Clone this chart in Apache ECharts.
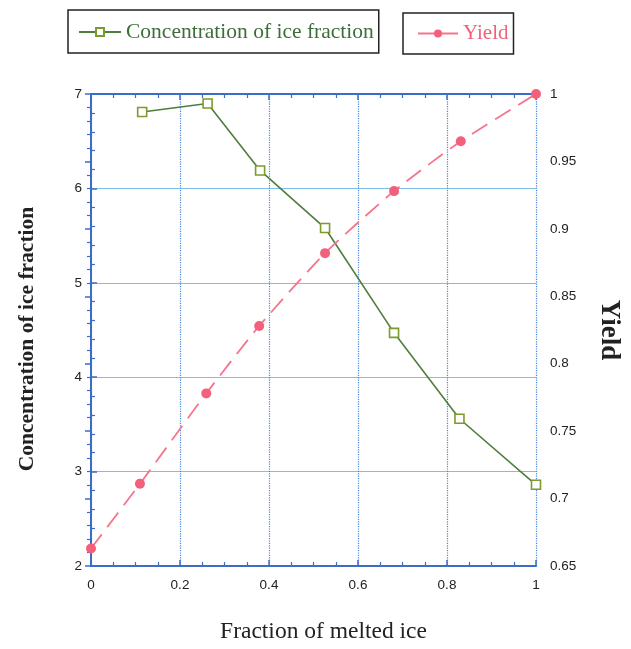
<!DOCTYPE html>
<html>
<head>
<meta charset="utf-8">
<script src="https://cdn.jsdelivr.net/npm/echarts@6/dist/echarts.min.js"></script>
<style>
  html, body { margin: 0; padding: 0; background: #fff; }
  #chart { width: 631px; height: 649px; }
</style>
</head>
<body>
<div id="chart"></div>
<script>
// Concentration of the ice fraction versus fraction of melted ice
const concMelted = [0.115, 0.262, 0.38, 0.526, 0.681, 0.828, 1.0];
const concentration = [6.81, 6.90, 6.19, 5.58, 4.47, 3.56, 2.86];

// Yield versus fraction of melted ice
const yieldMelted = [0, 0.11, 0.259, 0.378, 0.526, 0.681, 0.831, 1.0];
const yieldValues = [0.663, 0.711, 0.778, 0.828, 0.882, 0.928, 0.965, 1.0];

const xTicks = [0, 0.2, 0.4, 0.6, 0.8, 1];
const leftTicks = [2, 3, 4, 5, 6, 7];
const rightTicks = [0.65, 0.7, 0.75, 0.8, 0.85, 0.9, 0.95, 1];

const concName = 'Concentration of ice fraction';
const yieldName = 'Yield';

const axisBlue = '#3a6cc8';
const green = '#4f7d3c';
const pink = '#f2607c';
const serif = '"Liberation Serif", "DejaVu Serif", serif';
const sans = '"Liberation Sans", Arial, sans-serif';

const pair = (xs, ys) => xs.map((x, i) => [x, ys[i]]);

const chart = echarts.init(document.getElementById('chart'), null, { renderer: 'canvas' });

const tickLabel = { fontFamily: sans, fontSize: 13.5, color: '#222' };
const baseAxisLine = { show: true, lineStyle: { color: axisBlue, width: 2 } };
const inTick = { show: true, inside: true, length: 6, lineStyle: { color: axisBlue, width: 1.5 } };
const minor = n => ({ show: true, splitNumber: n, length: 4, lineStyle: { color: axisBlue, width: 1.2 } });

chart.setOption({
  animation: false,
  backgroundColor: '#fff',
  legend: [
    {
      left: 68, top: 10,
      padding: [11, 5, 10, 10],
      borderColor: '#222', borderWidth: 1.5,
      itemWidth: 42, itemHeight: 10,
      data: [{ name: concName }],
      textStyle: { fontFamily: serif, fontSize: 21.5, color: '#3d6e3a' }
    },
    {
      left: 403, top: 13,
      padding: [10, 5, 10, 14],
      borderColor: '#222', borderWidth: 1.5,
      itemWidth: 40, itemHeight: 10,
      data: [{ name: yieldName, lineStyle: { type: 'solid' } }],
      textStyle: { fontFamily: serif, fontSize: 21, color: pink }
    }
  ],
  grid: { left: 91, right: 95, top: 94, bottom: 82, containLabel: false },
  xAxis: [
    {
      type: 'value', position: 'bottom', min: 0, max: 1, interval: 0.2,
      name: 'Fraction of melted ice', nameLocation: 'middle', nameGap: 54,
      nameTextStyle: { fontFamily: serif, fontSize: 23.5, color: '#222', padding: [0, 0, 0, 20] },
      axisLine: baseAxisLine, axisTick: inTick, minorTick: minor(4),
      axisLabel: Object.assign({ margin: 12, formatter: v => xTicks.includes(+v.toFixed(2)) ? String(+v.toFixed(2)) : '' }, tickLabel),
      splitLine: { show: true, lineStyle: { color: '#4a86d6', type: 'dotted', width: 1.2 } }
    },
    {
      type: 'value', position: 'top', min: 0, max: 1, interval: 0.2,
      axisLine: baseAxisLine, axisTick: inTick, minorTick: minor(4),
      axisLabel: { show: false }, splitLine: { show: false }
    }
  ],
  yAxis: [
    {
      type: 'value', position: 'left', min: 2, max: 7, interval: 1,
      name: concName, nameLocation: 'middle', nameGap: 53,
      nameTextStyle: { fontFamily: serif, fontSize: 21.5, fontWeight: 'bold', color: '#222', padding: [0, 18, 0, 0] },
      axisLine: baseAxisLine, axisTick: inTick, minorTick: minor(5),
      axisLabel: Object.assign({ margin: 9, formatter: v => leftTicks.includes(v) ? String(v) : '' }, tickLabel),
      splitLine: { show: true, lineStyle: { color: '#7cc0ea', width: 1.2 } }
    },
    {
      type: 'value', position: 'right', min: 0.65, max: 1, interval: 0.05,
      name: yieldName, nameLocation: 'middle', nameGap: 59, nameRotate: -90,
      nameTextStyle: { fontFamily: serif, fontSize: 27, fontWeight: 'bold', color: '#222' },
      axisLine: baseAxisLine, axisTick: inTick, minorTick: minor(5),
      axisLabel: Object.assign({
        margin: 14,
        formatter: v => {
          const r = +v.toFixed(2);
          return rightTicks.includes(r) ? String(r) : '';
        }
      }, tickLabel),
      splitLine: { show: false }
    }
  ],
  series: [
    {
      name: concName, type: 'line', xAxisIndex: 0, yAxisIndex: 0,
      data: pair(concMelted, concentration),
      clip: false,
      symbol: 'rect', symbolSize: 9,
      lineStyle: { color: green, width: 1.6 },
      itemStyle: { color: '#ffffff', borderColor: '#7d9a2c', borderWidth: 1.6 },
      z: 3
    },
    {
      name: yieldName, type: 'line', xAxisIndex: 0, yAxisIndex: 1,
      data: pair(yieldMelted, yieldValues),
      clip: false,
      smooth: 0.2,
      symbol: 'circle', symbolSize: 10,
      lineStyle: { color: '#f5758c', width: 1.8, type: [18, 9] },
      itemStyle: { color: pink },
      z: 4
    }
  ]
});
</script>
</body>
</html>
